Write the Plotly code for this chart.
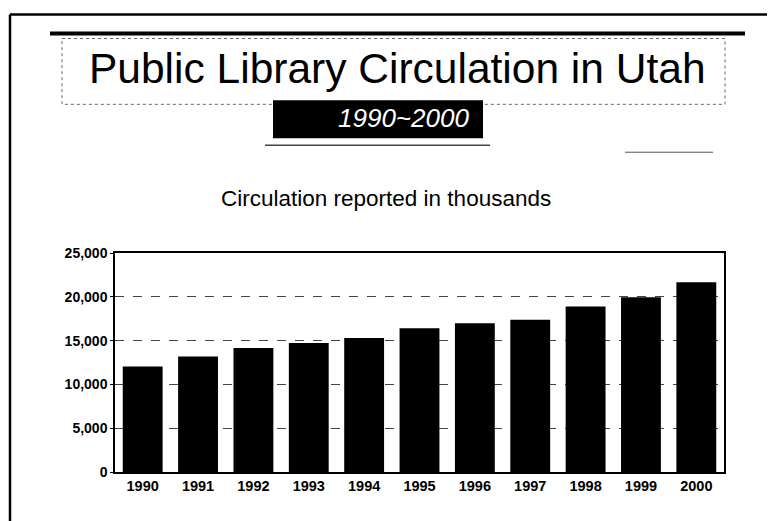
import plotly.graph_objects as go

# ---- data ----
years = ["1990", "1991", "1992", "1993", "1994", "1995", "1996", "1997", "1998", "1999", "2000"]
circulation = [12050, 13190, 14150, 14720, 15290, 16420, 16990, 17370, 18890, 19950, 21660]
y_ticks = [0, 5000, 10000, 15000, 20000, 25000]
y_tick_labels = ["0", "5,000", "10,000", "15,000", "20,000", "25,000"]

title_text = "Public Library Circulation in Utah"
period_text = "1990~2000"
subtitle_text = "Circulation reported in thousands"

# ---- layout geometry ----
# the page body has an 8px margin, so the figure starts at screen (8, 8)
OFF = 8
W, H = 775 - OFF, 521 - OFF
PLOT_L, PLOT_R, PLOT_T, PLOT_B = 115, 724, 253, 472.5   # screen pixels
L = PLOT_L - OFF
T = PLOT_T - OFF
R = W - (PLOT_R - OFF)
B = H - (PLOT_B - OFF)
PW, PH = PLOT_R - PLOT_L, PLOT_B - PLOT_T

def px(x):
    return (x - PLOT_L) / PW

def py(y):
    return (PLOT_B - y) / PH

FONT = "Liberation Sans, Arial, sans-serif"

fig = go.Figure()
fig.add_trace(go.Bar(
    x=years, y=circulation,
    marker=dict(color="black", line=dict(color="black", width=0)),
    width=0.72,
    hoverinfo="x+y",
))

shapes = [
    # outer slide frame
    dict(type="line", x0=px(10), x1=px(790), y0=py(14), y1=py(14),
         line=dict(color="black", width=2.5)),
    dict(type="line", x0=px(10), x1=px(10), y0=py(14), y1=py(540),
         line=dict(color="black", width=2.5)),
    # thick decorative bar above title
    dict(type="line", x0=px(50), x1=px(745), y0=py(33), y1=py(33),
         line=dict(color="black", width=4)),
    # title frame
    dict(type="rect", x0=px(62), x1=px(725), y0=py(38), y1=py(104),
         line=dict(color="#666", width=1, dash="dot")),
    # black period box
    dict(type="rect", x0=px(273), x1=px(483), y0=py(100), y1=py(138),
         fillcolor="black", line=dict(color="black", width=0)),
    # line under period box
    dict(type="line", x0=px(265), x1=px(490), y0=py(145), y1=py(145),
         line=dict(color="#444", width=1.5)),
    # short line at right
    dict(type="line", x0=px(625), x1=px(713), y0=py(152), y1=py(152),
         line=dict(color="#555", width=1)),
]
for s in shapes:
    s.update(xref="paper", yref="paper", layer="below")

annotations = [
    dict(text=title_text, x=px(397), y=py(68), xref="paper", yref="paper",
         showarrow=False, xanchor="center", yanchor="middle",
         font=dict(family=FONT, size=42.5, color="black")),
    dict(text="<i>" + period_text + "</i>", x=px(403), y=py(118), xref="paper", yref="paper",
         showarrow=False, xanchor="center", yanchor="middle",
         font=dict(family=FONT, size=26, color="white")),
    dict(text=subtitle_text, x=px(386), y=py(198), xref="paper", yref="paper",
         showarrow=False, xanchor="center", yanchor="middle",
         font=dict(family=FONT, size=22.5, color="black")),
]

fig.update_layout(
    width=W, height=H,
    margin=dict(l=L, r=R, t=T, b=B, pad=0),
    paper_bgcolor="white", plot_bgcolor="white",
    showlegend=False,
    shapes=shapes,
    annotations=annotations,
    font=dict(family=FONT, color="black"),
)
fig.update_xaxes(
    type="category",
    showline=True, linecolor="black", linewidth=1.5, mirror=True,
    ticks="", showgrid=False,
    tickfont=dict(family=FONT, size=14.5, color="black", weight="bold"),
)
fig.update_yaxes(
    range=[0, 25000],
    tickvals=y_ticks, ticktext=y_tick_labels,
    showline=True, linecolor="black", linewidth=1.5, mirror=True,
    ticks="outside", ticklen=3, tickcolor="black",
    showgrid=True, gridcolor="#444", gridwidth=1, griddash="dash",
    tickfont=dict(family=FONT, size=14, color="black", weight="bold"),
    zeroline=False,
)

fig.write_html("out.html")
